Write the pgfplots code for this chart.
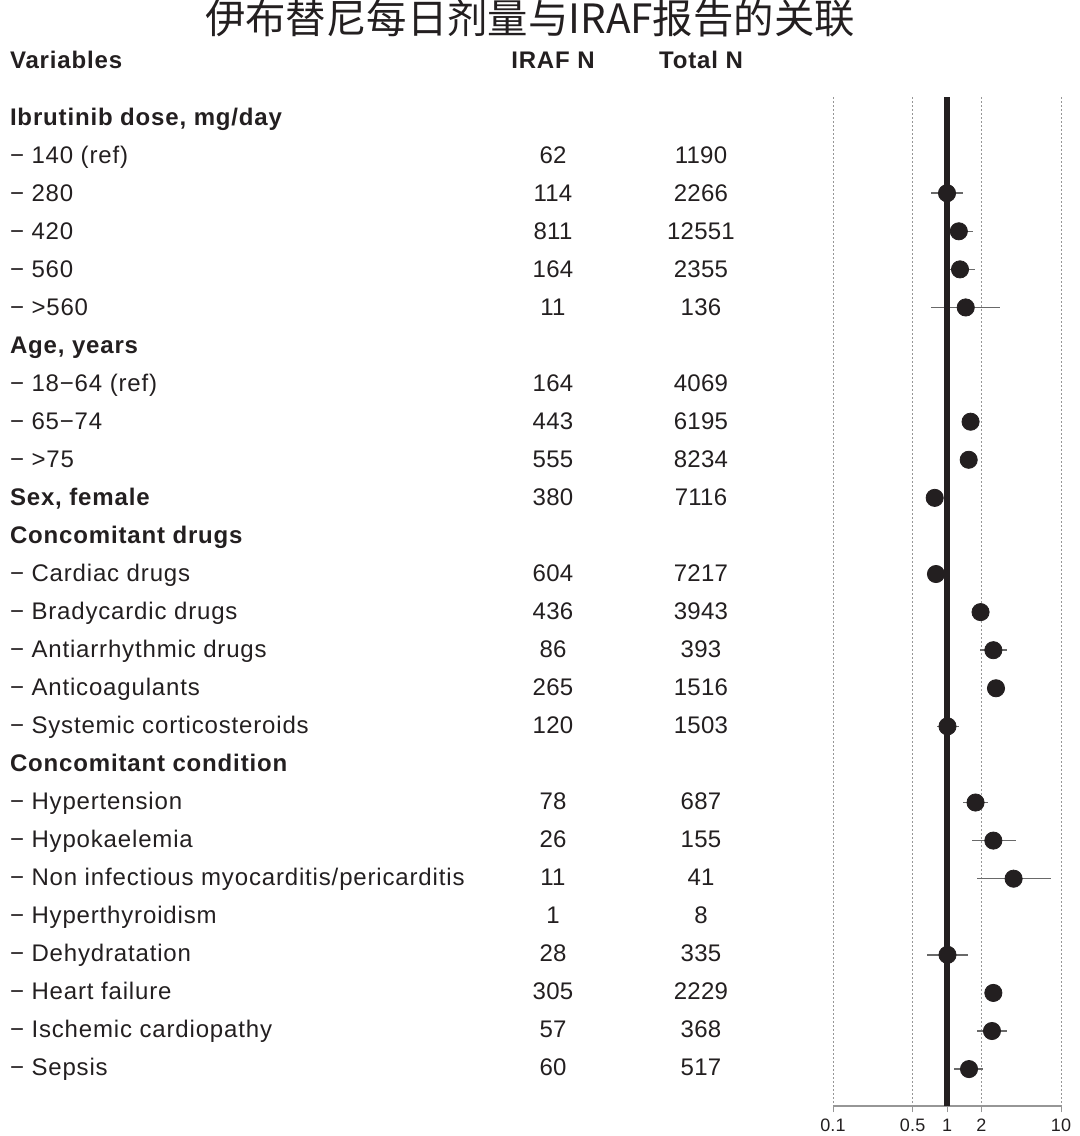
\documentclass[border=0pt]{standalone}
\usepackage{pgfplots}
\pgfplotsset{compat=1.18}
\usepackage{pgfplotstable}
\usepackage{fontspec}
\setmainfont{Liberation Sans}[LetterSpace=3.5]
\newfontfamily\numfont{Liberation Sans}[LetterSpace=1]
\newfontfamily\cjk{Noto Sans CJK SC}
\definecolor{ink}{RGB}{35,31,32}
\definecolor{cigray}{RGB}{105,105,105}
\definecolor{gridgray}{RGB}{150,150,150}

% row index, odds ratio, CI low, CI high
\pgfplotstableread{
k  or   lo   hi
1  1.00 0.72 1.39
2  1.27 0.96 1.68
3  1.30 0.96 1.77
4  1.46 0.72 2.94
7  1.61 1.40 1.85
8  1.55 1.36 1.76
9  0.78 0.70 0.87
11 0.80 0.68 0.92
12 1.97 1.75 2.20
13 2.55 1.95 3.38
14 2.69 2.40 3.00
15 1.01 0.82 1.27
17 1.78 1.39 2.30
18 2.55 1.65 4.03
19 3.84 1.85 8.10
21 1.01 0.67 1.54
22 2.55 2.30 2.80
23 2.48 1.85 3.38
24 1.56 1.16 2.08
}\forestdata

\begin{document}
\begin{tikzpicture}
\path[use as bounding box] (0,0) rectangle (540bp,-568bp);

\begin{scope}[x=0.5bp,y=-0.5bp,
  every node/.style={inner sep=0pt, outer sep=0pt, text=ink, font=\fontsize{12bp}{14bp}\selectfont}]
  \node[anchor=base, font=\cjk\fontsize{20.2bp}{20bp}\selectfont] at (530,33)
    {伊布替尼每日剂量与IRAF报告的关联};
  \node[anchor=base west, font=\fontsize{12bp}{14bp}\selectfont\bfseries] at (10,68.5) {Variables};
  \node[anchor=base, font=\fontsize{12bp}{14bp}\selectfont\bfseries] at (553,68.5) {IRAF N};
  \node[anchor=base, font=\fontsize{12bp}{14bp}\selectfont\bfseries] at (701,68.5) {Total N};
  \foreach \k/\lab/\a/\b in {
    -1/{\bfseries Ibrutinib dose, mg/day}/{}/{},
    0/{− 140 (ref)}/62/1190,
    1/{− 280}/114/2266,
    2/{− 420}/811/12551,
    3/{− 560}/164/2355,
    4/{− >560}/11/136,
    5/{\bfseries Age, years}/{}/{},
    6/{− 18−64 (ref)}/164/4069,
    7/{− 65−74}/443/6195,
    8/{− >75}/555/8234,
    9/{\bfseries Sex, female}/380/7116,
    10/{\bfseries Concomitant drugs}/{}/{},
    11/{− Cardiac drugs}/604/7217,
    12/{− Bradycardic drugs}/436/3943,
    13/{− Antiarrhythmic drugs}/86/393,
    14/{− Anticoagulants}/265/1516,
    15/{− Systemic corticosteroids}/120/1503,
    16/{\bfseries Concomitant condition}/{}/{},
    17/{− Hypertension}/78/687,
    18/{− Hypokaelemia}/26/155,
    19/{− Non infectious myocarditis/pericarditis}/11/41,
    20/{− Hyperthyroidism}/1/8,
    21/{− Dehydratation}/28/335,
    22/{− Heart failure}/305/2229,
    23/{− Ischemic cardiopathy}/57/368,
    24/{− Sepsis}/60/517}{
    \node[anchor=base west] at (10,{163.5+38*\k}) {\lab};
    \node[anchor=base, font=\numfont\fontsize{12bp}{14bp}\selectfont] at (553,{163.5+38*\k}) {\a};
    \node[anchor=base, font=\numfont\fontsize{12bp}{14bp}\selectfont] at (701,{163.5+38*\k}) {\b};
  }
\end{scope}

\begin{axis}[
    at={(416.5bp,-48.5bp)}, anchor=north west,
    width=114bp, height=504.5bp, scale only axis,
    xmode=log, xmin=0.1, xmax=10,
    ymin=-1.526, ymax=24.97, y dir=reverse,
    axis y line=none, axis x line*=bottom,
    axis line style={gridgray, line width=0.6bp, -},
    xtick={0.1,0.5,1,2,10}, xticklabels={0.1,0.5,1,2,10},
    minor xtick={},
    xmajorgrids, grid style={gridgray, dash pattern=on 1bp off 1bp, line width=0.5bp},
    tick style={gridgray, line width=0.5bp}, tick align=outside, major tick length=3bp,
    xticklabel style={font=\numfont\fontsize{9bp}{10bp}\selectfont, text=ink},
    /pgf/number format/assume math mode=true,
    clip=false,
]
\addplot[only marks, mark=none,
    error bars/.cd, x dir=both, x explicit,
    error bar style={cigray, line width=0.75bp}, error mark=none]
    table[x=or, y=k,
      x error plus expr=\thisrow{hi}-\thisrow{or},
      x error minus expr=\thisrow{or}-\thisrow{lo}] {\forestdata};
\addplot[ink, line width=2.9bp] coordinates {(1,-1.526) (1,24.97)};
\addplot[only marks, mark=*, mark size=4.3bp, mark options={draw=ink, fill=ink}]
    table[x=or, y=k] {\forestdata};
\end{axis}
\end{tikzpicture}
\end{document}
